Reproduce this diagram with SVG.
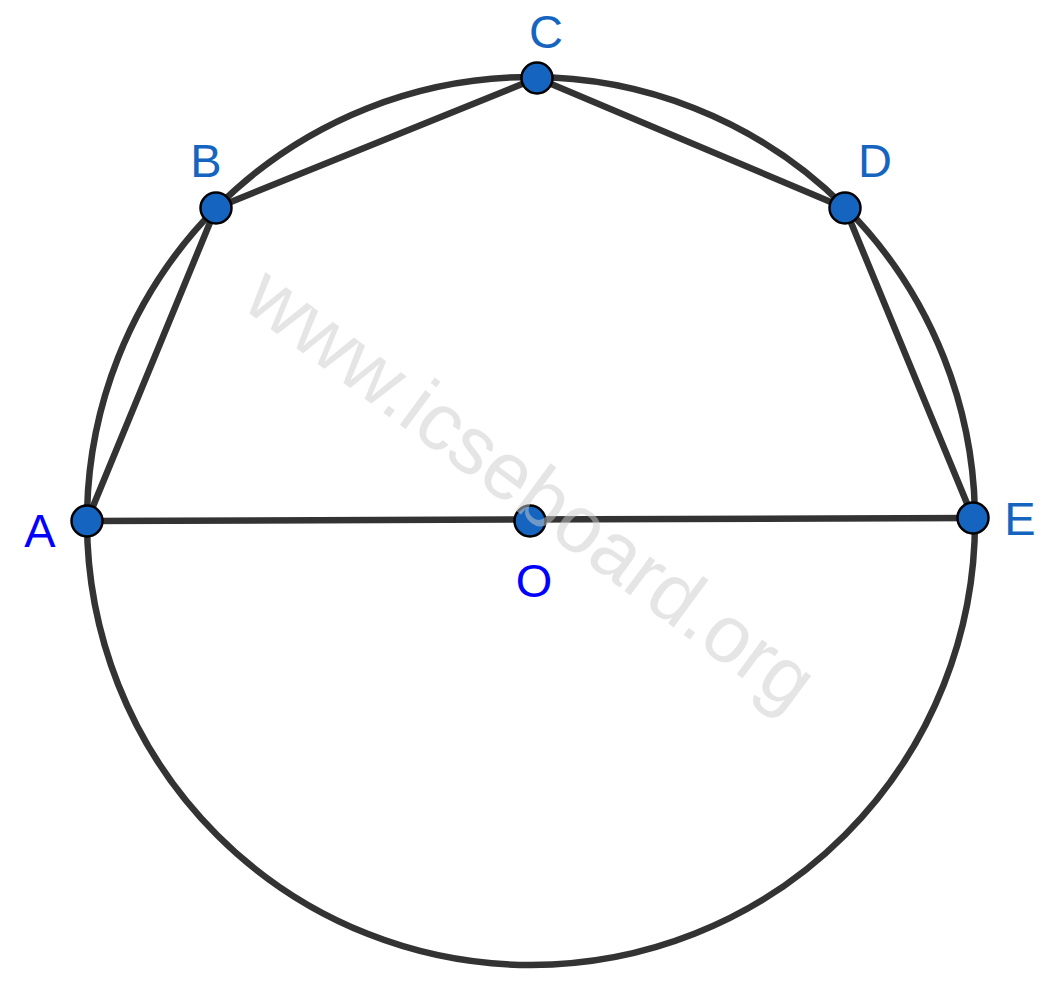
<svg xmlns="http://www.w3.org/2000/svg" width="1051" height="982" viewBox="0 0 1051 982">
<style>
.ln{stroke:#333333;stroke-width:6.5;fill:none;stroke-linecap:round}
.pt{fill:#1565C0;stroke:#000;stroke-width:2.5}
.lb{font-family:"Liberation Sans",Arial,sans-serif;font-size:47px;text-anchor:middle}
.b1{fill:#1565C0}
.b2{fill:#0000FF}
.wm{font-family:"Liberation Sans",Arial,sans-serif;font-size:81px;fill:#cccccc;fill-opacity:0.5;text-anchor:middle}
</style>
<rect width="1051" height="982" fill="#fff"/>
<g id="connectors">
<circle class="ln" cx="531" cy="521" r="444"/>
<polyline class="ln" points="87,521 216,208 537,78 845,208 973,518"/>
<line class="ln" x1="87" y1="521" x2="973" y2="518"/>
</g>
<g id="A"><circle class="pt" cx="87" cy="521" r="15.5"/><text class="lb b2" x="40" y="547">A</text></g>
<g id="B"><circle class="pt" cx="216" cy="208" r="15.5"/><text class="lb b1" x="206" y="177">B</text></g>
<g id="C"><circle class="pt" cx="537" cy="78" r="15.5"/><text class="lb b1" x="546" y="48">C</text></g>
<g id="D"><circle class="pt" cx="845" cy="208" r="15.5"/><text class="lb b1" x="875" y="177">D</text></g>
<g id="E"><circle class="pt" cx="973" cy="518" r="15.5"/><text class="lb b1" x="1020" y="535">E</text></g>
<g id="O"><circle class="pt" cx="530" cy="521" r="15.5"/><text class="lb b2" x="534" y="597">O</text></g>
<text class="wm" transform="translate(515,510) rotate(36.5)" x="0" y="0">www.icseboard.org</text>
</svg>
